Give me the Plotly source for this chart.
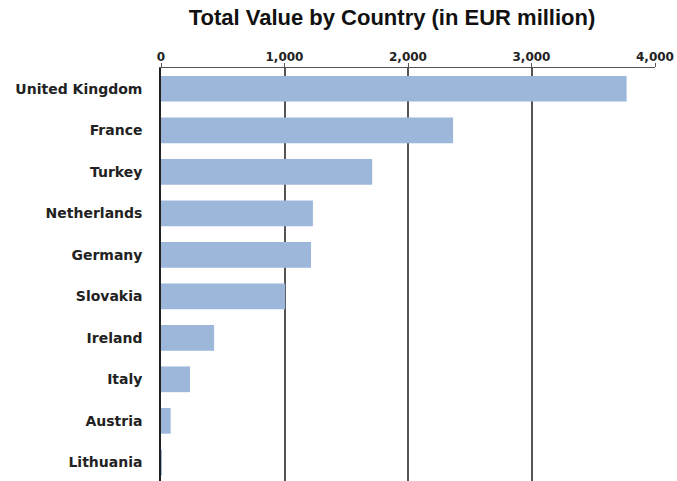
import plotly.graph_objects as go

countries = ["United Kingdom", "France", "Turkey", "Netherlands", "Germany",
             "Slovakia", "Ireland", "Italy", "Austria", "Lithuania"]
values = [3770, 2365, 1710, 1230, 1215, 1005, 430, 235, 78, 6]
tick_vals = [0, 1000, 2000, 3000, 4000]
tick_text = ["0", "1,000", "2,000", "3,000", "4,000"]

TITLE_FONT = "Liberation Sans, Arial, sans-serif"
LABEL_FONT = "DejaVu Sans, Verdana, sans-serif"

fig = go.Figure(go.Bar(
    x=values, y=countries, orientation="h",
    marker=dict(color="#9DB7DA", line=dict(width=0)),
    width=0.62,
))

fig.update_layout(
    width=677, height=481,
    margin=dict(l=161, r=22, t=68, b=0),
    paper_bgcolor="white", plot_bgcolor="white",
    showlegend=False,
    title=dict(text="<b>Total Value by Country (in EUR million)</b>",
               x=392 / 677, xanchor="center", y=1 - 17 / 481, yanchor="middle",
               font=dict(family=TITLE_FONT, size=22, color="#111")),
    font=dict(family=LABEL_FONT, color="#222"),
)

fig.update_xaxes(
    side="top", range=[0, 4000],
    tickvals=tick_vals, ticktext=["<b>%s</b>" % t for t in tick_text],
    tickfont=dict(family=LABEL_FONT, size=12, color="#222"),
    showgrid=True, gridcolor="#555555", gridwidth=1.5,
    showline=True, linecolor="#555555", linewidth=1.2,
    ticks="outside", ticklen=4, tickcolor="#555555",
    ticklabelstandoff=-3,
    zeroline=False, mirror=False,
)

fig.update_yaxes(
    categoryorder="array", categoryarray=countries,
    range=[9.45, -0.5],
    tickvals=countries, ticktext=["<b>%s</b>" % c for c in countries],
    tickfont=dict(family=LABEL_FONT, size=14, color="#222"),
    showline=True, linecolor="#222", linewidth=1.5,
    ticks="", ticklabelstandoff=14, showgrid=False, zeroline=False,
)

fig.write_html("out.html")
